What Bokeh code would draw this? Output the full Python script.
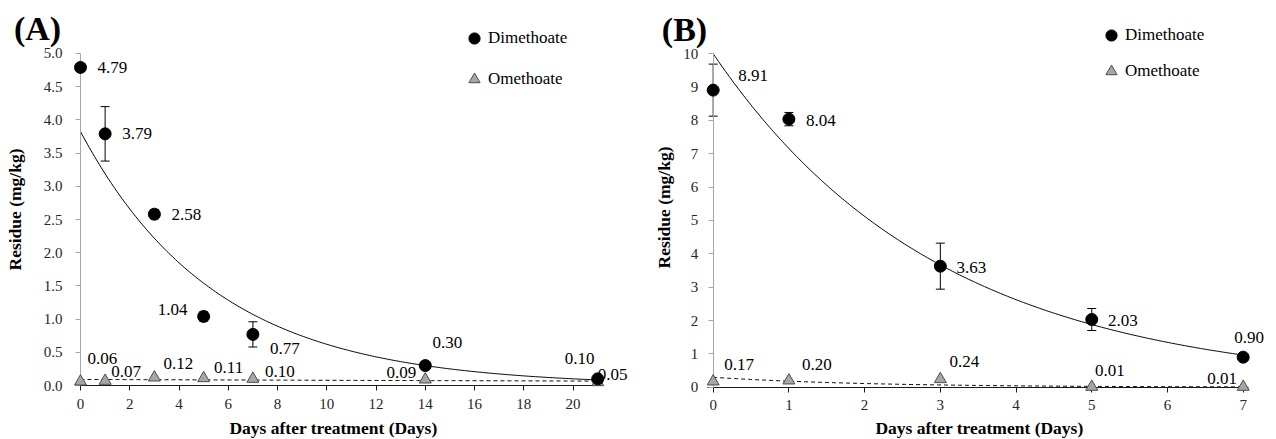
import numpy as np
from bokeh.plotting import figure
from bokeh.layouts import row
from bokeh.models import (ColumnDataSource, LabelSet, Label, Legend, LegendItem,
                          Whisker, TeeHead, FixedTicker, NumeralTickFormatter, Range1d)
from bokeh.embed import file_html
from bokeh.resources import INLINE
from bokeh.core.properties import value

# ---------------- data ----------------
# Panel (A)
days_a = [0, 1, 3, 5, 7, 14, 21]
dimethoate_a = [4.79, 3.79, 2.58, 1.04, 0.77, 0.30, 0.10]
dimethoate_a_sd = [0.0, 0.41, 0.07, 0.07, 0.19, 0.0, 0.0]
omethoate_a = [0.06, 0.07, 0.12, 0.11, 0.10, 0.09, 0.05]
xticks_a = [0, 2, 4, 6, 8, 10, 12, 14, 16, 18, 20]
yticks_a = [0.0, 0.5, 1.0, 1.5, 2.0, 2.5, 3.0, 3.5, 4.0, 4.5, 5.0]

# Panel (B)
days_b = [0, 1, 3, 5, 7]
dimethoate_b = [8.91, 8.04, 3.63, 2.03, 0.90]
dimethoate_b_sd = [0.78, 0.20, 0.69, 0.33, 0.0]
omethoate_b = [0.17, 0.20, 0.24, 0.01, 0.01]
xticks_b = [0, 1, 2, 3, 4, 5, 6, 7]
yticks_b = [0, 1, 2, 3, 4, 5, 6, 7, 8, 9, 10]

series_names = ["Dimethoate", "Omethoate"]
x_title = "Days after treatment (Days)"
y_title = "Residue (mg/kg)"

# ---------------- styling / placement (pixels) ----------------
dim_a_off = [(32, 0), (32, 0), (32, 0), (-31, 7), (32, -14), (22, 23), (-18, 20)]
ome_a_off = [(22, 23), (21, 9), (24, 14), (25, 11), (27, 7), (-24, 7), (15, 8)]
dim_b_off = [(40, 15), (32, -1), (31, -1), (31, -1), (6, 20)]
ome_b_off = [(26, 17), (28, 16), (24, 18), (18, 16), (-21, 8)]

SERIF = "Liberation Serif"
FIG_H = 439


def exp_trend(t, y):
    """Excel-style exponential trendline fitted to the data (log-linear least squares)."""
    k, lnc = np.polyfit(np.asarray(t, float), np.log(np.asarray(y, float)), 1)
    tt = np.linspace(0, max(t), 300)
    return tt, np.exp(lnc + k * tt)


def make_panel(tag, days, dim, dim_sd, ome, dim_off, ome_off, xticks, yticks,
               yfmt, width, xr, yr, xbounds, ymax, legend_loc, legend_spacing,
               tag_pos, ytitle_pos, xtitle_pos, ylabel_standoff):
    p = figure(width=width, height=FIG_H, x_range=Range1d(*xr), y_range=Range1d(*yr),
               output_backend="svg", toolbar_location=None,
               min_border_left=0, min_border_right=0,
               min_border_top=0, min_border_bottom=0)
    p.outline_line_color = None
    p.grid.visible = False
    p.background_fill_color = "white"
    p.border_fill_color = "white"

    # axes drawn at the data origin
    p.xaxis.fixed_location = 0
    p.yaxis.fixed_location = 0
    p.xaxis.bounds = xbounds
    p.yaxis.bounds = (0, ymax)
    p.xaxis.ticker = FixedTicker(ticks=xticks)
    p.yaxis.ticker = FixedTicker(ticks=yticks)
    p.yaxis.formatter = NumeralTickFormatter(format=yfmt)
    p.xaxis.formatter = NumeralTickFormatter(format="0")
    for ax in (p.xaxis, p.yaxis):
        ax.minor_tick_line_color = None
        ax.major_tick_in = 0
        ax.major_tick_out = 5
        ax.major_label_text_font = SERIF
        ax.major_label_text_font_size = "15px"
        ax.major_label_text_color = "#262626"
    p.xaxis.axis_line_color = "#1a1a1a"
    p.xaxis.major_tick_line_color = "#1a1a1a"
    p.xaxis.major_label_standoff = 8
    p.yaxis.axis_line_color = "#a6a6a6"
    p.yaxis.major_tick_line_color = "#a6a6a6"
    p.yaxis.major_label_standoff = ylabel_standoff

    # trend lines
    tt, yy = exp_trend(days, dim)
    p.line(tt, yy, line_color="black", line_width=1)
    tt, yy = exp_trend(days, ome)
    p.line(tt, yy, line_color="black", line_width=1, line_dash="4 3")

    # error bars
    ex = [d for d, s in zip(days, dim_sd) if s > 0]
    ey = [v for v, s in zip(dim, dim_sd) if s > 0]
    es = [s for s in dim_sd if s > 0]
    err_src = ColumnDataSource(dict(x=ex, upper=[v + s for v, s in zip(ey, es)],
                                    lower=[v - s for v, s in zip(ey, es)]))
    p.add_layout(Whisker(source=err_src, base="x", upper="upper", lower="lower",
                         dimension="height", line_color="black", line_width=1,
                         upper_head=TeeHead(size=9, line_color="black", line_width=1),
                         lower_head=TeeHead(size=9, line_color="black", line_width=1)))

    # markers
    src_d = ColumnDataSource(dict(x=days, y=dim, lab=[f"{v:.2f}" for v in dim],
                                  dx=[o[0] for o in dim_off], dy=[o[1] for o in dim_off]))
    src_o = ColumnDataSource(dict(x=days, y=ome, lab=[f"{v:.2f}" for v in ome],
                                  dx=[o[0] for o in ome_off], dy=[o[1] for o in ome_off]))
    r_o = p.scatter("x", "y", source=src_o, marker="triangle", size=12,
                    fill_color="#a6a6a6", line_color="#4d4d4d", line_width=1)
    r_d = p.scatter("x", "y", source=src_d, marker="circle", size=12,
                    fill_color="black", line_color="black")
    r_o.level = "annotation"
    r_d.level = "annotation"

    for src in (src_d, src_o):
        p.add_layout(LabelSet(x="x", y="y", text="lab", source=src, x_offset="dx", y_offset="dy",
                              text_font=value(SERIF), text_font_size="17px", text_color="black",
                              text_align="center", text_baseline="middle"))

    # legend
    legend = Legend(items=[LegendItem(label=series_names[0], renderers=[r_d]),
                           LegendItem(label=series_names[1], renderers=[r_o])],
                    location=legend_loc, orientation="vertical",
                    glyph_width=28, glyph_height=28, label_standoff=0,
                    spacing=legend_spacing, padding=0, margin=0,
                    border_line_color=None, background_fill_alpha=0,
                    label_text_font=SERIF, label_text_font_size="17px",
                    label_text_color="black", label_text_baseline="middle")
    p.add_layout(legend)

    # panel tag and axis titles (screen px from the plot's bottom-left)
    p.add_layout(Label(x=tag_pos[0], y=tag_pos[1], x_units="screen", y_units="screen",
                       text=tag, text_font=SERIF, text_font_size="34px", text_font_style="bold",
                       text_align="center", text_baseline="middle", text_color="black"))
    p.add_layout(Label(x=ytitle_pos[0], y=ytitle_pos[1], x_units="screen", y_units="screen",
                       text=y_title, angle=np.pi / 2, text_font=SERIF, text_font_size="17.5px",
                       text_font_style="bold", text_align="center", text_baseline="middle",
                       text_color="black"))
    p.add_layout(Label(x=xtitle_pos[0], y=xtitle_pos[1], x_units="screen", y_units="screen",
                       text=x_title, text_font=SERIF, text_font_size="17.5px",
                       text_font_style="bold", text_align="center", text_baseline="bottom",
                       text_color="black"))
    return p


pA = make_panel("(A)", days_a, dimethoate_a, dimethoate_a_sd, omethoate_a, dim_a_off, ome_a_off,
                xticks_a, yticks_a, "0.0", 640, (-3.248, 22.737), (-0.813, 5.798),
                (-0.2, 21.2), 5.0, (460, 346), 13, (37, 411), (14, 230), (333, 2), 13)
pB = make_panel("(B)", days_b, dimethoate_b, dimethoate_b_sd, omethoate_b, dim_b_off, ome_b_off,
                xticks_b, yticks_b, "0", 636, (-0.960, 7.440), (-1.569, 11.598),
                (-0.08, 7.07), 10, (457, 354), 8, (44, 410), (23, 232), (339, 2), 10)

layout = row(pA, pB, spacing=0)
with open("out.html", "w") as f:
    f.write(file_html(layout, INLINE))
